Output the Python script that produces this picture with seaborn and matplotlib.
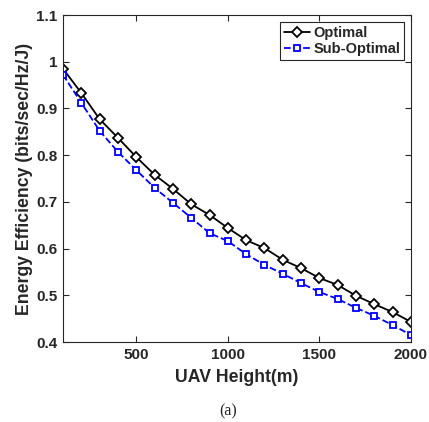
import matplotlib
matplotlib.use("Agg")
import matplotlib.pyplot as plt
import seaborn as sns
import pandas as pd

heights = [100, 200, 300, 400, 500, 600, 700, 800, 900, 1000,
           1100, 1200, 1300, 1400, 1500, 1600, 1700, 1800, 1900, 2000]
optimal = [0.985, 0.933, 0.877, 0.837, 0.796, 0.758, 0.728, 0.695, 0.672, 0.644,
           0.618, 0.601, 0.576, 0.558, 0.537, 0.522, 0.499, 0.481, 0.464, 0.443]
sub_optimal = [0.972, 0.912, 0.852, 0.807, 0.768, 0.730, 0.698, 0.666, 0.633, 0.616,
               0.588, 0.565, 0.546, 0.526, 0.507, 0.492, 0.473, 0.456, 0.436, 0.415]
x_ticks = [500, 1000, 1500, 2000]
y_ticks = [0.4, 0.5, 0.6, 0.7, 0.8, 0.9, 1.0, 1.1]
y_tick_labels = ["0.4", "0.5", "0.6", "0.7", "0.8", "0.9", "1", "1.1"]

sns.set_style("ticks")
plt.rcParams['font.family'] = ['Liberation Sans', 'DejaVu Sans']

df_opt = pd.DataFrame({"h": heights, "ee": optimal})
df_sub = pd.DataFrame({"h": heights, "ee": sub_optimal})

fig = plt.figure(figsize=(4.29, 4.22), dpi=100)
ax = fig.add_axes([63/429, 1-342/422, (411-63)/429, (342-15)/422])

sns.lineplot(data=df_opt, x="h", y="ee", ax=ax, color="black", linewidth=1.3,
             marker="D", markersize=5.2, markerfacecolor="white", markeredgecolor="black",
             markeredgewidth=1.3, label="Optimal")
sns.lineplot(data=df_sub, x="h", y="ee", ax=ax, color="#0000ff", linewidth=1.3,
             linestyle="--", marker="s", markersize=4.5, markerfacecolor="white",
             markeredgecolor="#0000ff", markeredgewidth=1.3, label="Sub-Optimal")

ax.set_xlim(100, 2000)
ax.set_ylim(0.4, 1.1)
ax.set_xticks(x_ticks)
ax.set_xticklabels([str(t) for t in x_ticks])
ax.set_yticks(y_ticks)
ax.set_yticklabels(y_tick_labels)

axis_col = "#262626"
for s in ax.spines.values():
    s.set_visible(True)
    s.set_color(axis_col)
    s.set_linewidth(0.8)
ax.tick_params(direction="in", top=True, right=True, length=4, width=0.8,
               colors=axis_col, labelsize=11, pad=4)
for lbl in ax.get_xticklabels() + ax.get_yticklabels():
    lbl.set_fontweight("bold")

ax.set_xlabel("UAV Height(m)", fontsize=12.7, fontweight="bold", color=axis_col, labelpad=5)
ax.set_ylabel("Energy Efficiency (bits/sec/Hz/J)", fontsize=12.7, fontweight="bold",
              color=axis_col, labelpad=2)

leg = ax.legend(loc="upper right", fontsize=10.5, frameon=True, fancybox=False,
                edgecolor=axis_col, framealpha=1, handlelength=1.8, handletextpad=0.2,
                borderpad=0.25, labelspacing=0.15, borderaxespad=0.5)
leg.get_frame().set_linewidth(0.8)
for t in leg.get_texts():
    t.set_fontweight("bold")

fig.text(228/429, 1-411/422, "(a)", ha="center", va="center", fontsize=11.5,
         family=["Liberation Serif", "DejaVu Serif"])

fig.savefig("out.png", dpi=100)
